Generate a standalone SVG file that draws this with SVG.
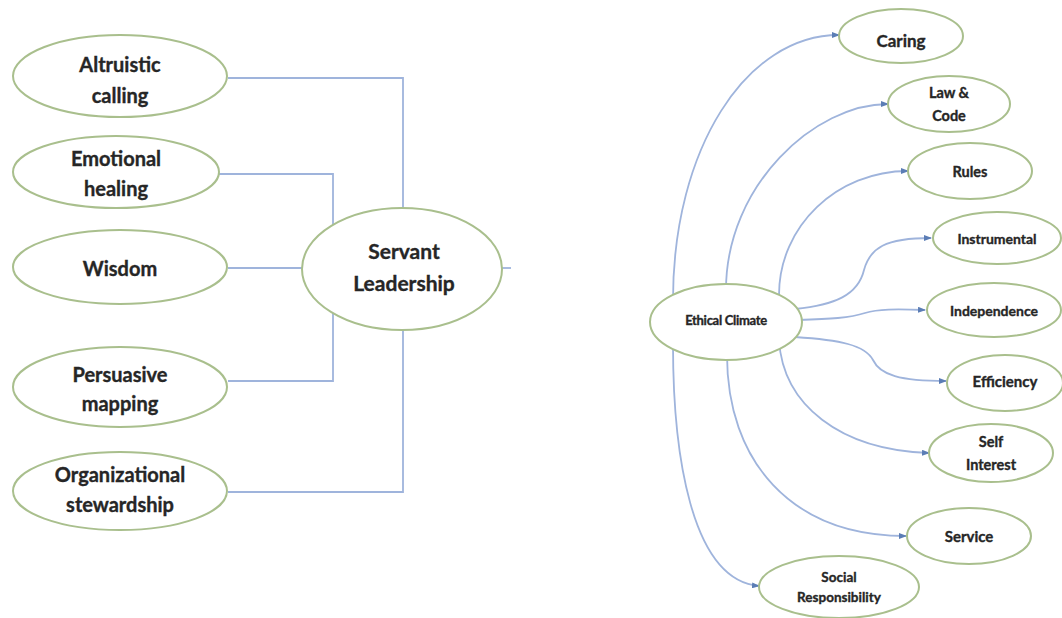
<svg xmlns="http://www.w3.org/2000/svg" width="1062" height="618" viewBox="0 0 1062 618">
  <defs>
    <marker id="arrow" markerUnits="userSpaceOnUse" markerWidth="8" markerHeight="6" refX="7" refY="3" orient="auto">
      <path d="M0,0 L8,3 L0,6 z" fill="#5b7db5"/>
    </marker>
    <style>
      .node { fill: #ffffff; stroke: #a9bf8d; stroke-width: 2; }
      .link { fill: none; stroke: #9fb4dc; stroke-width: 1.8; }
      .arr { marker-end: url(#arrow); }
      text { font-family: "Lato", "Liberation Sans", sans-serif; font-weight: 700; fill: #262626; stroke: #262626; stroke-width: 0.35; text-anchor: middle; }
      .big { font-size: 20px; }
      .mid { font-size: 16px; }
      .sm { font-size: 14.5px; }
    </style>
  </defs>
  <rect width="1062" height="618" fill="#ffffff"/>

  <!-- connectors -->
  <g id="connectors">
    <!-- servant leadership tree -->
    <path class="link" d="M228,78 H403 V210"/>
    <path class="link" d="M218,174 H333 V226"/>
    <path class="link" d="M228,268 H304"/>
    <path class="link" d="M228,381 H333 V312"/>
    <path class="link" d="M228,492 H403 V328"/>
    <path class="link" d="M502,268 H511"/>
    <!-- ethical climate fan -->
    <path class="link arr" d="M673,300 C673,149 746,35 839,35"/>
    <path class="link arr" d="M726,290 C726,185 815,104 888,104"/>
    <path class="link arr" d="M779,295 C779,226 837,171 908,171"/>
    <path class="link arr" d="M795,309 C835,305 858,295 864,270 C870,248 885,238 931,238"/>
    <path class="link arr" d="M798,320 C830,319 850,318 865,313 C878,309 895,309 925,310"/>
    <path class="link arr" d="M795,337 C840,340 865,345 873,360 C880,375 900,381 946,381"/>
    <path class="link arr" d="M779,340 C783,405 840,450 929,453"/>
    <path class="link arr" d="M727,355 C727,460 790,536 906,536"/>
    <path class="link arr" d="M673,345 C673,450 690,580 759,586"/>
  </g>

  <!-- servant leadership nodes -->
  <g id="altruistic-calling">
    <ellipse class="node" cx="120" cy="76" rx="107" ry="41"/>
    <text class="big" x="120" y="72">Altruistic</text>
    <text class="big" x="120" y="103">calling</text>
  </g>
  <g id="emotional-healing">
    <ellipse class="node" cx="116" cy="172" rx="103" ry="36"/>
    <text class="big" x="116" y="166">Emotional</text>
    <text class="big" x="116" y="196">healing</text>
  </g>
  <g id="wisdom">
    <ellipse class="node" cx="120" cy="267" rx="107" ry="37"/>
    <text class="big" x="120" y="276">Wisdom</text>
  </g>
  <g id="persuasive-mapping">
    <ellipse class="node" cx="120" cy="387" rx="107" ry="40"/>
    <text class="big" x="120" y="382">Persuasive</text>
    <text class="big" x="120" y="411">mapping</text>
  </g>
  <g id="organizational-stewardship">
    <ellipse class="node" cx="120" cy="491" rx="107" ry="39"/>
    <text class="big" x="120" y="482">Organizational</text>
    <text class="big" x="120" y="512">stewardship</text>
  </g>
  <g id="servant-leadership">
    <ellipse class="node" cx="402" cy="269" rx="100" ry="61"/>
    <text class="big" x="404" y="259" style="font-size:21px">Servant</text>
    <text class="big" x="404" y="291" style="font-size:21px">Leadership</text>
  </g>

  <!-- ethical climate nodes -->
  <g id="ethical-climate">
    <ellipse class="node" cx="726" cy="322" rx="76" ry="38"/>
    <text x="726" y="325" style="font-size:13px;letter-spacing:-0.3px">Ethical Climate</text>
  </g>
  <g id="caring">
    <ellipse class="node" cx="901" cy="36" rx="62" ry="27"/>
    <text class="mid" x="901" y="47" style="font-size:17px">Caring</text>
  </g>
  <g id="law-code">
    <ellipse class="node" cx="949" cy="104" rx="61" ry="28"/>
    <text class="sm" x="949" y="98">Law &amp;</text>
    <text class="sm" x="949" y="121">Code</text>
  </g>
  <g id="rules">
    <ellipse class="node" cx="970" cy="171" rx="62" ry="28"/>
    <text class="sm" x="970" y="177">Rules</text>
  </g>
  <g id="instrumental">
    <ellipse class="node" cx="997" cy="238" rx="64" ry="26"/>
    <text class="sm" x="997" y="244" style="font-size:14px">Instrumental</text>
  </g>
  <g id="independence">
    <ellipse class="node" cx="994" cy="310" rx="67" ry="27"/>
    <text class="sm" x="994" y="316" style="font-size:14px">Independence</text>
  </g>
  <g id="efficiency">
    <ellipse class="node" cx="1005" cy="383" rx="58" ry="28"/>
    <text class="sm" x="1005" y="387" style="font-size:15px">Efficiency</text>
  </g>
  <g id="self-interest">
    <ellipse class="node" cx="991" cy="453" rx="62" ry="29"/>
    <text class="sm" x="991" y="447">Self</text>
    <text class="sm" x="991" y="470">Interest</text>
  </g>
  <g id="service">
    <ellipse class="node" cx="969" cy="536" rx="62" ry="28"/>
    <text class="sm" x="969" y="542" style="font-size:15px">Service</text>
  </g>
  <g id="social-responsibility">
    <ellipse class="node" cx="839" cy="587" rx="80" ry="31"/>
    <text class="sm" x="839" y="582" style="font-size:13.5px">Social</text>
    <text class="sm" x="839" y="602" style="font-size:13.5px">Responsibility</text>
  </g>
</svg>
